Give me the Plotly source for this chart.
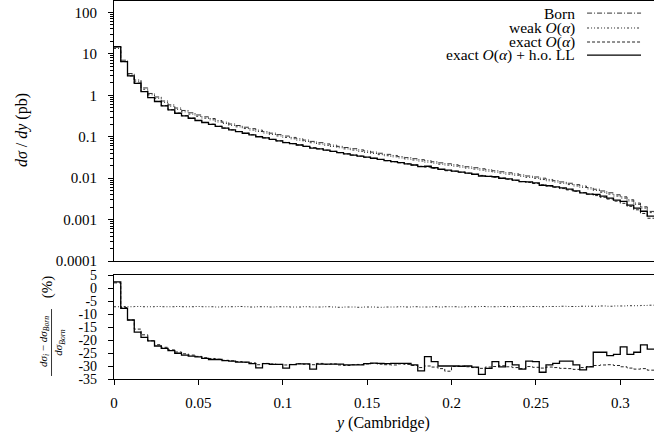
import numpy as np
import plotly.graph_objects as go

# ---------------- data ----------------
bin_width = 0.004
n_bins = 80
y_edges = np.round(np.arange(n_bins + 1) * bin_width, 4)

born = [14.6, 7.05, 3.36, 2.35, 1.51, 1.11, 0.914, 0.729, 0.589, 0.494,
        0.431, 0.379, 0.336, 0.303, 0.276, 0.246, 0.225, 0.203, 0.187, 0.170,
        0.157, 0.1445, 0.1327, 0.1222, 0.1127, 0.104, 0.0964, 0.0895, 0.0832, 0.0774,
        0.0721, 0.0673, 0.0628, 0.0587, 0.0550, 0.0515, 0.0483, 0.0453, 0.0426, 0.0400,
        0.0376, 0.0354, 0.0333, 0.0314, 0.0296, 0.0280, 0.0264, 0.0249, 0.0235, 0.0223,
        0.0211, 0.0200, 0.0189, 0.0179, 0.0169, 0.0160, 0.0151, 0.0143, 0.0135, 0.0127,
        0.0120, 0.0113, 0.0107, 0.0100, 0.00933, 0.00871, 0.00813, 0.00755, 0.00700, 0.00646,
        0.00593, 0.00542, 0.00492, 0.00445, 0.00398, 0.00355, 0.00302, 0.00251, 0.00204, 0.00158]

# relative corrections (%) with respect to Born
ratio_weak = [-7.2, -7.1, -7.2, -7.1, -7.2, -7.2, -7.1, -7.2, -7.2, -7.1,
              -7.2, -7.2, -7.1, -7.2, -7.2, -7.3, -7.2, -7.2, -7.1, -7.2,
              -7.3, -7.2, -7.2, -7.3, -7.2, -7.2, -7.3, -7.3, -7.2, -7.3,
              -7.3, -7.2, -7.3, -7.4, -7.3, -7.3, -7.4, -7.3, -7.3, -7.4,
              -7.3, -7.3, -7.2, -7.3, -7.2, -7.3, -7.3, -7.2, -7.3, -7.2,
              -7.2, -7.3, -7.2, -7.2, -7.1, -7.2, -7.2, -7.1, -7.2, -7.1,
              -7.2, -7.1, -7.1, -7.2, -7.1, -7.1, -7.0, -7.1, -7.1, -7.0,
              -7.0, -7.0, -6.9, -7.0, -6.9, -6.9, -6.8, -6.8, -6.7, -6.6]

ratio_exact = [2.0, -7.5, -12.3, -15.8, -18.0, -20.3, -21.8, -22.8, -23.8, -24.6,
               -25.3, -25.8, -26.3, -26.8, -27.1, -27.4, -27.8, -28.0, -28.3, -28.6,
               -28.8, -29.5, -29.0, -29.2, -29.4, -29.6, -29.4, -29.1, -29.3, -29.5,
               -29.0, -29.4, -29.2, -29.6, -29.8, -29.5, -29.4, -29.2, -29.0, -29.3,
               -29.5, -29.6, -29.2, -29.4, -29.8, -30.6, -30.0, -30.4, -31.0, -32.0,
               -30.2, -30.0, -30.3, -30.6, -30.9, -30.4, -30.2, -29.9, -30.3, -30.6,
               -31.0, -30.2, -30.5, -30.8, -30.4, -30.6, -30.9, -31.0, -31.3, -30.6,
               -30.2, -29.8, -29.6, -29.5, -29.8, -30.3, -30.8, -31.2, -31.0, -31.6]

ratio_hoLL = [2.4, -7.8, -12.3, -17.0, -19.0, -20.3, -22.3, -23.2, -24.1, -25.1,
              -25.8, -26.2, -26.5, -27.1, -27.5, -27.5, -27.9, -28.1, -28.5, -28.5,
              -29.1, -30.7, -29.1, -29.4, -29.4, -30.8, -29.5, -29.2, -29.2, -31.2,
              -29.3, -29.3, -29.3, -29.3, -29.6, -29.6, -29.6, -29.1, -28.9, -29.0,
              -29.1, -29.0, -29.0, -29.0, -29.6, -31.9, -26.4, -28.3, -30.0, -30.0,
              -30.0, -30.1, -30.0, -30.4, -33.2, -30.9, -28.3, -30.3, -28.3, -29.6,
              -31.2, -28.1, -28.3, -32.4, -29.6, -29.0, -28.1, -28.1, -29.6, -31.5,
              -30.3, -24.7, -24.7, -26.0, -25.5, -22.6, -25.5, -24.7, -21.9, -23.5]

series_names = ["Born", "weak <i>O</i>(<i>α</i>)", "exact <i>O</i>(<i>α</i>)",
                "exact <i>O</i>(<i>α</i>) + h.o. LL"]
top_ticks = [1e-4, 1e-3, 1e-2, 1e-1, 1, 10, 100]
top_ticktext = ["0.0001", "0.001", "0.01", "0.1", "1", "10", "100"]
x_ticks = [0, 0.05, 0.1, 0.15, 0.2, 0.25, 0.3]
x_ticktext = ["0", "0.05", "0.1", "0.15", "0.2", "0.25", "0.3"]
ratio_ticks = [-35, -30, -25, -20, -15, -10, -5, 0, 5]
ratio_ticktext = ["-35", "-30", "-25", "-20", "-15", "-10", "-5", "0", "5"]

# ---------------- derived distributions ----------------
born_a = np.array(born)
weak_a = born_a * (1 + np.array(ratio_weak) / 100)
exact_a = born_a * (1 + np.array(ratio_exact) / 100)
hoLL_a = born_a * (1 + np.array(ratio_hoLL) / 100)


def steps(vals):
    v = list(vals)
    return v + [v[-1]]


FONT = "Liberation Serif, Times New Roman, DejaVu Serif, serif"
ink = "#000000"
dash_born = "5px,2px,1px,2px"
dash_weak = "2px,2px,1px,2px,1px,2px"
dash_exact = "3px,2px"
styles = [dict(color="#333", width=1, dash=dash_born),
          dict(color="#333", width=1, dash=dash_weak),
          dict(color="#222", width=1, dash=dash_exact),
          dict(color=ink, width=1.3, dash="solid")]

fig = go.Figure()
for name, vals, st in zip(series_names, [born_a, weak_a, exact_a, hoLL_a], styles):
    fig.add_trace(go.Scatter(x=y_edges, y=steps(vals), mode="lines", line_shape="hv",
                             line=st, name=name, showlegend=False, hoverinfo="skip",
                             xaxis="x", yaxis="y"))

for name, vals, st in zip(series_names[1:], [ratio_weak, ratio_exact, ratio_hoLL], styles[1:]):
    fig.add_trace(go.Scatter(x=y_edges, y=steps(vals), mode="lines", line_shape="hv",
                             line=st, name=name, showlegend=False, hoverinfo="skip",
                             xaxis="x2", yaxis="y2"))

# ---------------- layout ----------------
minor_vals = [m * 10.0 ** e for e in range(-4, 3) for m in range(2, 10)]
axfont = dict(family=FONT, size=15, color=ink)

fig.update_layout(
    width=654, height=434,
    margin=dict(l=114, r=0, t=1, b=55, autoexpand=False),
    paper_bgcolor="white", plot_bgcolor="white",
    font=axfont,
    xaxis=dict(domain=[0, 1], range=[0, 0.32], anchor="y", showline=True, mirror=True,
               linecolor=ink, linewidth=1.2, ticks="", showticklabels=False,
               showgrid=False, zeroline=False),
    yaxis=dict(domain=[0.312, 1], type="log", range=[-4, 2.277], anchor="x",
               showline=True, linecolor=ink, linewidth=1.2, ticks="outside", ticklen=5,
               tickcolor=ink, tickmode="array", tickvals=top_ticks, ticktext=top_ticktext,
               minor=dict(ticks="outside", ticklen=3, tickcolor=ink, tickmode="array",
                          tickvals=minor_vals, showgrid=False),
               showgrid=False, zeroline=False, tickfont=axfont, ticklabelstandoff=8),
    xaxis2=dict(domain=[0, 1], range=[0, 0.32], anchor="y2", showline=True, mirror=True,
                linecolor=ink, linewidth=1.2, ticks="outside", ticklen=5, tickcolor=ink,
                tickmode="array", tickvals=x_ticks, ticktext=x_ticktext,
                showgrid=False, zeroline=False, tickfont=axfont, ticklabelstandoff=5),
    yaxis2=dict(domain=[0, 0.275], range=[-35, 5], anchor="x2", showline=True,
                linecolor=ink, linewidth=1.2, ticks="outside", ticklen=5, tickcolor=ink,
                tickmode="array", tickvals=ratio_ticks, ticktext=ratio_ticktext,
                showgrid=False, zeroline=False, ticklabelstandoff=8,
                tickfont=dict(family=FONT, size=14, color=ink)),
)

# legend (text right-aligned, sample line on the right, as in the original)
leg_y = [0.968, 0.9286, 0.8915, 0.857]
for name, st, yy in zip(series_names, styles, leg_y):
    fig.add_annotation(x=0.857, y=yy, xref="paper", yref="paper", text=name,
                       showarrow=False, xanchor="right", yanchor="middle",
                       font=dict(family=FONT, size=15.5, color=ink))
    fig.add_shape(type="line", xref="paper", yref="paper", x0=0.876, x1=0.976,
                  y0=yy, y1=yy, line=st)

# axis titles
fig.add_annotation(x=-0.170, y=0.659, xref="paper", yref="paper",
                   xanchor="center", yanchor="middle",
                   text="<i>dσ</i> / <i>dy</i> (pb)", textangle=-90, showarrow=False,
                   font=dict(family=FONT, size=16, color=ink))
fig.add_annotation(x=0.498, y=-0.117, xref="paper", yref="paper",
                   xanchor="center", yanchor="middle",
                   text="<i>y</i> (Cambridge)", showarrow=False,
                   font=dict(family=FONT, size=16, color=ink))
# fraction label of the ratio panel
fig.add_annotation(x=-0.1296, y=0.098, xref="paper", yref="paper",
                   xanchor="center", yanchor="middle",
                   text="<i>dσ<sub>i</sub></i> − <i>dσ<sub>Born</sub></i>", textangle=-90,
                   showarrow=False, font=dict(family=FONT, size=11, color=ink))
fig.add_annotation(x=-0.1019, y=0.096, xref="paper", yref="paper",
                   xanchor="center", yanchor="middle",
                   text="<i>dσ<sub>Born</sub></i>", textangle=-90,
                   showarrow=False, font=dict(family=FONT, size=11, color=ink))
fig.add_shape(type="line", xref="paper", yref="paper", x0=-0.1157, x1=-0.1157,
              y0=0.008, y1=0.185, line=dict(color=ink, width=0.8))
fig.add_annotation(x=-0.124, y=0.243, xref="paper", yref="paper",
                   xanchor="center", yanchor="middle",
                   text="(%)", textangle=-90, showarrow=False,
                   font=dict(family=FONT, size=15, color=ink))

fig.write_html("out.html", config={"displayModeBar": False},
               post_script="document.body.style.margin='0';")
